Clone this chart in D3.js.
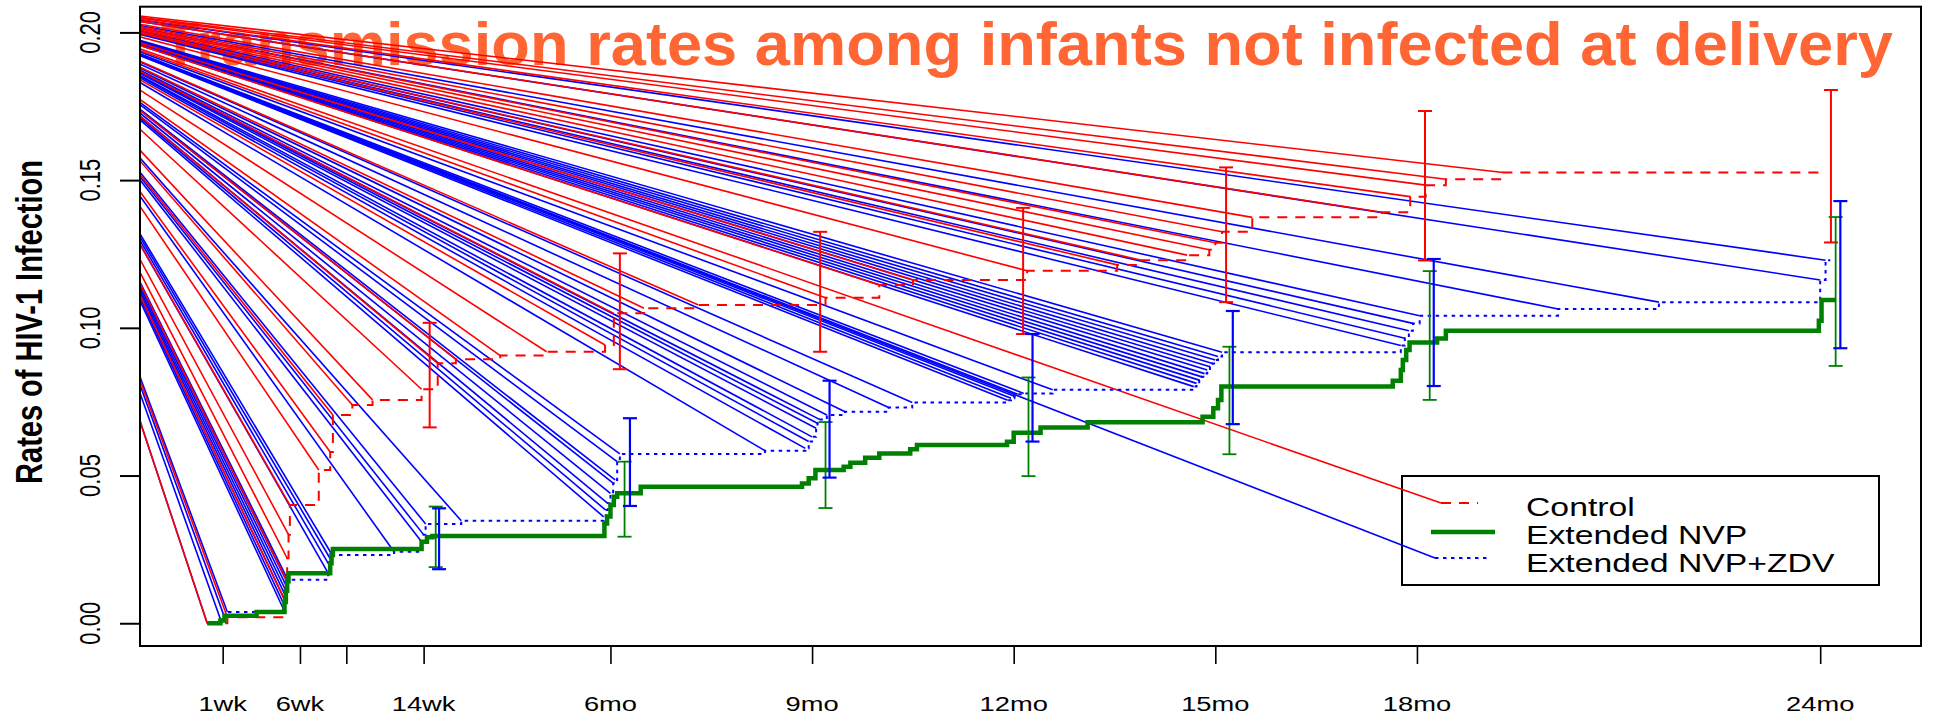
<!DOCTYPE html>
<html>
<head>
<meta charset="utf-8">
<script src="https://cdn.jsdelivr.net/npm/d3@7"></script>
<style>
  body { margin: 0; background: #fff; }
  svg { display: block; font-family: "Liberation Sans", Arial, Helvetica, sans-serif; }
</style>
</head>
<body>
<div id="chart"></div>
<script>
// time in months, values = cumulative rate of HIV-1 infection
var xTickValues = [0.23, 1.38, 2.07, 3.22, 6, 9, 12, 15, 18, 24];
var xTickLabels = ["1wk", "6wk", "", "14wk", "6mo", "9mo", "12mo", "15mo", "18mo", "24mo"];
var yTickValues = [0, 0.05, 0.10, 0.15, 0.20];

var seriesNames = ["Control", "Extended NVP", "Extended NVP+ZDV"];

// Control (red, dashed)
var controlTimes = [0, 0.3, 1.15, 1.17, 1.19, 1.21, 1.23, 1.66, 1.83, 1.87, 2.16, 2.46, 3.19, 3.43, 3.70, 4.36, 5.05,
  5.92, 6.05, 6.50, 7.31, 9.20, 10.0, 10.5, 12.2, 13.54, 13.9, 14.58, 14.91, 15.0, 15.1, 15.55, 17.48, 17.9, 18.13, 18.43, 19.28];
var controlRates = [0, 0.002, 0.008, 0.015, 0.022, 0.030, 0.040, 0.0519, 0.058, 0.0705, 0.0739, 0.0756, 0.0792, 0.088, 0.0894, 0.0906, 0.0919,
  0.0942, 0.1049, 0.1066, 0.1077, 0.1102, 0.1145, 0.1162, 0.1193, 0.1213, 0.1229, 0.1246, 0.1264, 0.1288, 0.1325, 0.1374, 0.1391, 0.1444, 0.1483, 0.1503, 0.1526];
var controlEnd = 24.07;

// Extended NVP (green, solid)
var nvpTimes = [0, 0.196, 0.257, 0.735, 1.15, 1.17, 1.19, 1.21, 1.83, 1.85, 1.87, 3.19, 3.27, 3.35, 5.91, 5.95, 6.00, 6.05, 6.10, 6.45,
  8.85, 8.95, 9.05, 9.47, 9.57, 9.79, 10.0, 10.46, 10.56, 11.9, 12.0, 12.4, 13.1, 14.81, 14.97, 15.04, 15.09,
  17.64, 17.76, 17.79, 17.84, 17.89, 18.3, 18.43, 23.98, 24.02];
var nvpRates = [0, 0.0009, 0.0025, 0.0038, 0.0072, 0.011, 0.0142, 0.0169, 0.0203, 0.0231, 0.0251, 0.0276, 0.0291, 0.0295, 0.0338, 0.0361, 0.040, 0.0428, 0.044, 0.0462,
  0.0473, 0.0491, 0.0519, 0.053, 0.0543, 0.056, 0.0575, 0.0589, 0.0603, 0.0614, 0.0645, 0.0663, 0.068, 0.0699, 0.0728, 0.0756, 0.0801,
  0.0821, 0.0857, 0.0891, 0.0925, 0.095, 0.0964, 0.099, 0.1024, 0.1094];
var nvpEnd = 24.22;

// Extended NVP+ZDV (blue, dotted)
var zdvTimes = [0, 0.20, 0.25, 0.30, 1.13, 1.14, 1.15, 1.16, 1.17, 1.18, 1.19, 1.20, 1.80, 1.82, 1.84, 1.86, 2.78, 3.19, 3.22, 3.25, 3.78,
  5.90, 5.93, 5.96, 6.00, 6.04, 6.07, 6.10, 6.14, 8.30, 8.90, 8.95, 9.00, 9.06, 9.08, 9.11, 9.22, 9.49, 10.14, 10.49,
  11.91, 11.96, 12.01, 12.06, 12.15, 12.58, 14.68, 14.72, 14.76, 14.80, 14.84, 14.88, 14.92, 14.96, 15.00, 15.04, 15.10,
  17.76, 17.82, 17.88, 17.94, 18.04, 20.10, 21.60, 24.00, 24.08];
var zdvRates = [0, 0.0012, 0.0025, 0.0038, 0.005, 0.0065, 0.008, 0.0095, 0.011, 0.0125, 0.0138, 0.0147, 0.017, 0.0195, 0.0215, 0.0231, 0.0242, 0.0276, 0.030, 0.0336, 0.0347,
  0.036, 0.0383, 0.0406, 0.044, 0.0474, 0.0485, 0.0547, 0.0573, 0.0584, 0.0592, 0.0615, 0.0631, 0.066, 0.0677, 0.069, 0.0705, 0.0716, 0.073, 0.0747,
  0.0755, 0.0762, 0.0768, 0.0775, 0.0778, 0.079, 0.0801, 0.0812, 0.0823, 0.0834, 0.0845, 0.0857, 0.0868, 0.0879, 0.0891, 0.0903, 0.0917,
  0.094, 0.0965, 0.099, 0.1015, 0.1041, 0.1064, 0.1087, 0.1162, 0.1229];
var zdvEnd = 24.15;

// confidence intervals
var controlCiTimes = [3.31, 6.14, 9.12, 12.14, 15.16, 18.12, 24.16];
var controlCiLow = [0.0663, 0.0860, 0.0919, 0.0979, 0.1087, 0.1228, 0.1289];
var controlCiHigh = [0.1017, 0.1252, 0.1325, 0.1406, 0.1543, 0.1734, 0.1805];
var nvpCiTimes = [3.40, 6.21, 9.20, 12.22, 15.21, 18.19, 24.23];
var nvpCiLow = [0.019, 0.0293, 0.039, 0.0498, 0.0572, 0.0756, 0.0871];
var nvpCiHigh = [0.0395, 0.0547, 0.0681, 0.0832, 0.0936, 0.1192, 0.1375];
var zdvCiTimes = [3.45, 6.29, 9.26, 12.28, 15.26, 18.25, 24.30];
var zdvCiLow = [0.0183, 0.0397, 0.0493, 0.0615, 0.0674, 0.0803, 0.0931];
var zdvCiHigh = [0.0389, 0.0694, 0.0821, 0.0979, 0.1057, 0.1233, 0.1429];

var titleText = "Transmission rates among infants not infected at delivery";

function buildChart() {
  var width = 1940, height = 715;
  var plot = { left: 140, right: 1921, top: 6.7, bottom: 646 };

  var x = d3.scaleLinear().domain([-1.0, 25.5]).range([plot.left, plot.right]);
  var y = d3.scaleLinear().domain([-0.0077, 0.2087]).range([plot.bottom, plot.top]);

  d3.select("#kmChart").remove();
  var svg = d3.select("#chart")
    .append("svg")
    .attr("id", "kmChart")
    .attr("width", width)
    .attr("height", height);

  svg.append("rect").attr("width", width).attr("height", height).attr("fill", "#fff");

  svg.append("clipPath").attr("id", "plotClip")
    .append("rect")
    .attr("x", plot.left).attr("y", plot.top)
    .attr("width", plot.right - plot.left).attr("height", plot.bottom - plot.top);

  // title sits under the curves
  svg.append("text")
    .attr("x", 161)
    .attr("y", 65)
    .attr("textLength", 1732)
    .attr("lengthAdjust", "spacingAndGlyphs")
    .style("font-family", "'Liberation Sans Narrow', 'Arial Narrow', 'Liberation Sans', Arial, sans-serif")
    .style("font-weight", "bold")
    .style("font-size", "61px")
    .attr("fill", "#ff6633")
    .text(titleText);

  function pts(times, rates, end) {
    var p = times.map(function(t, i) { return [t, rates[i]]; });
    p.push([end, rates[rates.length - 1]]);
    return p;
  }
  var stepLine = d3.line()
    .x(function(d) { return x(d[0]); })
    .y(function(d) { return y(d[1]); })
    .curve(d3.curveStepAfter);

  // legend box (drawn before the stray lines so they run into it)
  var lg = svg.append("g");
  lg.append("rect")
    .attr("x", 1402).attr("y", 476).attr("width", 477).attr("height", 109)
    .attr("fill", "#fff").attr("stroke", "#000").attr("stroke-width", 2);

  var legendRows = [
    { name: seriesNames[0], color: "#ff0000", dash: "10,8", w: 2, x1: 1441, x2: 1478, yy: 503, ty: 516 },
    { name: seriesNames[1], color: "#008000", dash: null, w: 4.5, x1: 1431, x2: 1495, yy: 532, ty: 544 },
    { name: seriesNames[2], color: "#0000ff", dash: "3.5,4.5", w: 2, x1: 1435, x2: 1490, yy: 558, ty: 572 }
  ];
  legendRows.forEach(function(r) {
    lg.append("line")
      .attr("x1", r.x1).attr("x2", r.x2).attr("y1", r.yy).attr("y2", r.yy)
      .attr("stroke", r.color).attr("stroke-width", r.w)
      .attr("stroke-dasharray", r.dash);
    lg.append("text")
      .attr("transform", "translate(1526," + r.ty + ") scale(1.35,1)")
      .style("font-size", "25px")
      .attr("fill", "#000")
      .text(r.name);
  });

  // stray lines from the page origin to each step of the dashed/dotted curves
  var fan = svg.append("g").attr("clip-path", "url(#plotClip)");
  var zdvPts = zdvTimes.map(function(t, i) { return [x(t), y(zdvRates[i])]; });
  zdvPts.push([legendRows[2].x1, legendRows[2].yy]);
  var ctlPts = controlTimes.map(function(t, i) { return [x(t), y(controlRates[i])]; });
  ctlPts.push([legendRows[0].x1, legendRows[0].yy]);

  fan.selectAll(".fanZdv").data(zdvPts).enter().append("line")
    .attr("class", "fanZdv")
    .attr("x1", 0).attr("y1", 0)
    .attr("x2", function(d) { return d[0]; }).attr("y2", function(d) { return d[1]; })
    .attr("stroke", "#0000ff").attr("stroke-width", 1.6);
  fan.selectAll(".fanCtl").data(ctlPts).enter().append("line")
    .attr("class", "fanCtl")
    .attr("x1", 0).attr("y1", 0)
    .attr("x2", function(d) { return d[0]; }).attr("y2", function(d) { return d[1]; })
    .attr("stroke", "#ff0000").attr("stroke-width", 1.6);

  // the step curves
  var curves = svg.append("g").attr("clip-path", "url(#plotClip)").attr("fill", "none");
  curves.append("path")
    .attr("d", stepLine(pts(controlTimes, controlRates, controlEnd)))
    .attr("stroke", "#ff0000").attr("stroke-width", 2).attr("stroke-dasharray", "10,8");
  curves.append("path")
    .attr("d", stepLine(pts(zdvTimes, zdvRates, zdvEnd)))
    .attr("stroke", "#0000ff").attr("stroke-width", 2).attr("stroke-dasharray", "3.5,4.5");
  curves.append("path")
    .attr("d", stepLine(pts(nvpTimes, nvpRates, nvpEnd)))
    .attr("stroke", "#008000").attr("stroke-width", 4.5);

  // error bars
  function errorBars(times, lo, hi, color, w) {
    var g = svg.append("g").attr("stroke", color).attr("stroke-width", w);
    times.forEach(function(t, i) {
      g.append("line").attr("x1", x(t)).attr("x2", x(t)).attr("y1", y(lo[i])).attr("y2", y(hi[i]));
      g.append("line").attr("x1", x(t) - 7).attr("x2", x(t) + 7).attr("y1", y(lo[i])).attr("y2", y(lo[i]));
      g.append("line").attr("x1", x(t) - 7).attr("x2", x(t) + 7).attr("y1", y(hi[i])).attr("y2", y(hi[i]));
    });
  }
  errorBars(controlCiTimes, controlCiLow, controlCiHigh, "#ff0000", 2);
  errorBars(nvpCiTimes, nvpCiLow, nvpCiHigh, "#008000", 1.8);
  errorBars(zdvCiTimes, zdvCiLow, zdvCiHigh, "#0000ff", 2.2);

  // box
  svg.append("rect")
    .attr("x", plot.left).attr("y", plot.top)
    .attr("width", plot.right - plot.left).attr("height", plot.bottom - plot.top)
    .attr("fill", "none").attr("stroke", "#000").attr("stroke-width", 2);

  // x axis
  var xAxis = d3.axisBottom(x).tickValues(xTickValues).tickSize(18).tickFormat("");
  var gx = svg.append("g").attr("transform", "translate(0," + plot.bottom + ")").call(xAxis);
  gx.select(".domain").attr("d", "M" + x(xTickValues[0]) + ",0H" + x(xTickValues[xTickValues.length - 1]))
    .attr("stroke-width", 2);
  gx.selectAll(".tick line").attr("stroke-width", 1.6);
  svg.append("g").selectAll("text").data(xTickValues).enter().append("text")
    .attr("transform", function(d) { return "translate(" + x(d) + ",711) scale(1.3,1)"; })
    .attr("text-anchor", "middle")
    .style("font-size", "21px")
    .text(function(d, i) { return xTickLabels[i]; });

  // y axis
  var yAxis = d3.axisLeft(y).tickValues(yTickValues).tickSize(20).tickFormat("");
  var gy = svg.append("g").attr("transform", "translate(" + plot.left + ",0)").call(yAxis);
  gy.select(".domain").remove();
  gy.selectAll(".tick line").attr("stroke-width", 2);
  svg.append("g").selectAll("text").data(yTickValues).enter().append("text")
    .attr("transform", function(d) { return "translate(100," + y(d) + ") scale(1.3,1) rotate(-90)"; })
    .attr("text-anchor", "middle")
    .style("font-size", "22px")
    .text(function(d) { return d3.format(".2f")(d); });

  svg.append("text")
    .attr("transform", "translate(42,322) scale(1.3,1) rotate(-90)")
    .attr("text-anchor", "middle")
    .style("font-size", "29px")
    .style("font-weight", "bold")
    .text("Rates of HIV-1 Infection");
}

buildChart();
</script>
</body>
</html>
